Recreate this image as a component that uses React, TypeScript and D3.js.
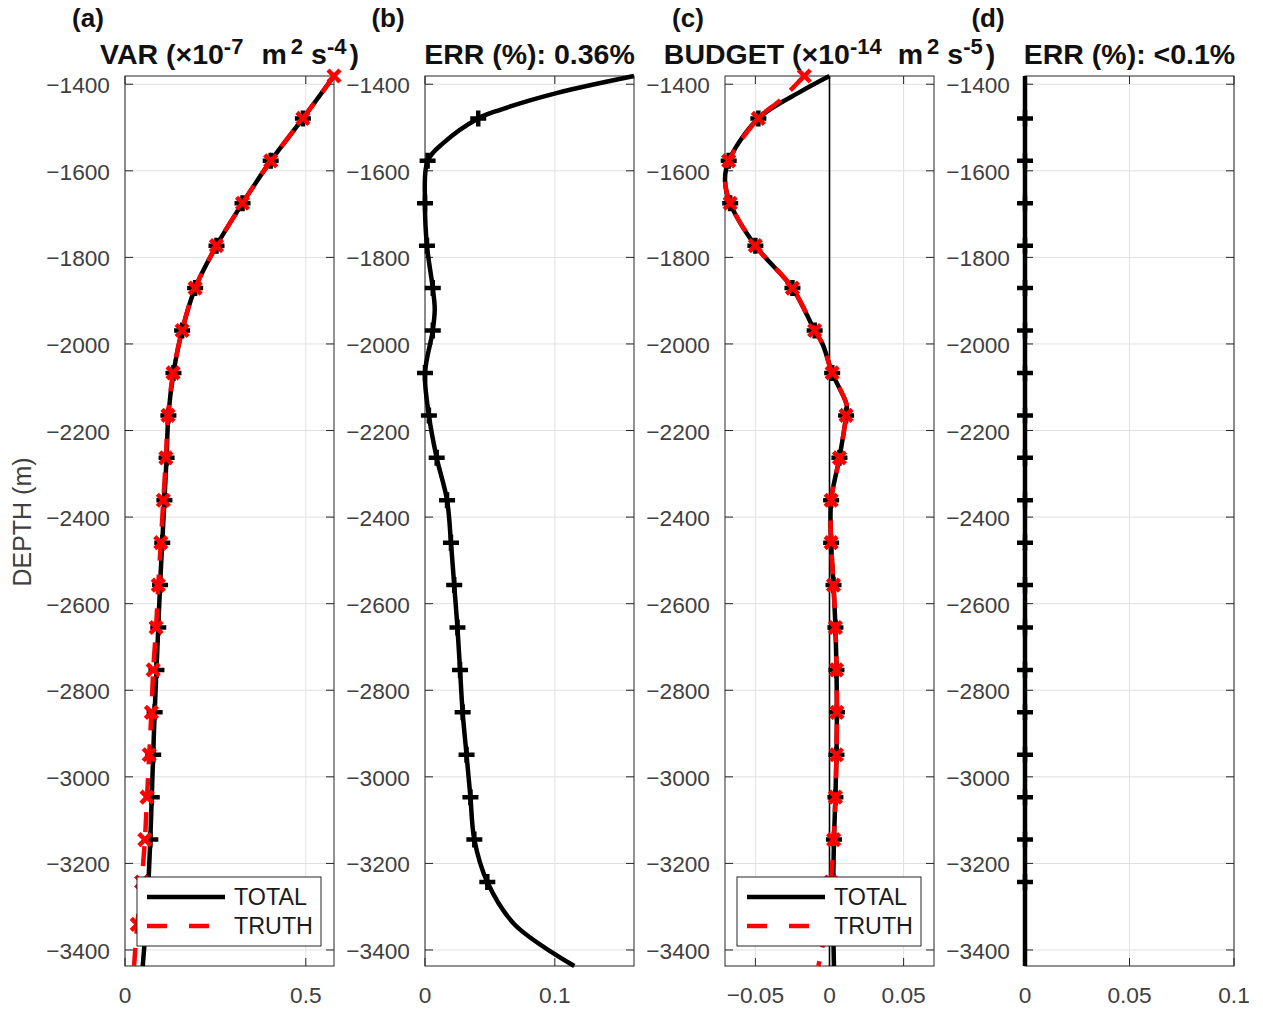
import React from "react";
import * as d3 from "d3";

// depths (m) where the markers sit, top and bottom of the plotted column
const depthTop = -1381;
const depthBottom = -3437;
const markerDepths = [
  -1381, -1479, -1577, -1675, -1773, -1871, -1969, -2067, -2165, -2263, -2361,
  -2459, -2557, -2655, -2753, -2851, -2949, -3047, -3145, -3243, -3341,
];
const yTicks = [-1400, -1600, -1800, -2000, -2200, -2400, -2600, -2800, -3000, -3200, -3400];

// (a) VAR (x1e-7 m2 s-4)
const varDepths = [...markerDepths, depthBottom];
const varTotal = [
  0.578, 0.492, 0.403, 0.325, 0.253, 0.194, 0.158, 0.134, 0.12, 0.115, 0.109,
  0.103, 0.097, 0.092, 0.087, 0.082, 0.078, 0.074, 0.07, 0.065, 0.058, 0.049,
];
const varTruth = [
  0.578, 0.492, 0.403, 0.325, 0.253, 0.194, 0.158, 0.133, 0.119, 0.113, 0.106,
  0.099, 0.092, 0.086, 0.078, 0.073, 0.067, 0.061, 0.055, 0.046, 0.034, 0.025,
];

// (b) ERR (%)
const errDepths = [
  -1381, -1420, -1459, -1479, -1536, -1577, -1675, -1773, -1871, -1920, -1969,
  -2067, -2165, -2263, -2361, -2459, -2557, -2655, -2753, -2851, -2949, -3047,
  -3145, -3243, -3341, -3437,
];
const errValues = [
  0.161, 0.102, 0.058, 0.041, 0.014, 0.002, 0.0, 0.0015, 0.006, 0.0075, 0.006,
  0.0, 0.003, 0.009, 0.017, 0.02, 0.0225, 0.025, 0.027, 0.029, 0.032, 0.035,
  0.038, 0.048, 0.069, 0.115,
];

// (c) BUDGET (x1e-14 m2 s-5)
const budgetTotalDepths = [
  -1381, -1420, -1479, -1577, -1621, -1675, -1773, -1871, -1969, -2000, -2067,
  -2140, -2165, -2263, -2361, -2459, -2557, -2655, -2753, -2851, -2949, -3047,
  -3145, -3243, -3341, -3437,
];
const budgetTotal = [
  0.0, -0.021, -0.048, -0.068, -0.0705, -0.067, -0.05, -0.025, -0.01, -0.0047, 0.0018,
  0.0115, 0.0112, 0.0067, 0.0011, 0.0011, 0.0027, 0.004, 0.0047, 0.005, 0.0047, 0.004,
  0.003, 0.0025, 0.0025, 0.003,
];
const budgetTruthDepths = [
  -1381, -1436, -1479, -1577, -1621, -1675, -1773, -1871, -1969, -2000, -2067,
  -2140, -2165, -2263, -2361, -2459, -2557, -2655, -2753, -2851, -2949, -3047,
  -3145, -3243, -3341, -3437,
];
const budgetTruth = [
  -0.017, -0.033, -0.048, -0.068, -0.0705, -0.067, -0.05, -0.025, -0.01, -0.0047, 0.0018,
  0.0115, 0.0112, 0.0067, 0.0011, 0.0011, 0.0027, 0.004, 0.0047, 0.005, 0.0047, 0.004,
  0.0028, 0.001, -0.002, -0.0075,
];

// (d) ERR (%)
const err2Depths = [...markerDepths, depthBottom];
const err2Values = [0, 0, 0, 0, 0, 0, 0, 0, 0, 0, 0, 0, 0, 0, 0, 0, 0, 0, 0, 0, 0, 0];

const panelLabels = ["(a)", "(b)", "(c)", "(d)"];
const legendNames = ["TOTAL", "TRUTH"];

const FONT = "'Liberation Sans', Arial, Helvetica, sans-serif";
const AX = "#262626";
const LBL = "#404040";
const GRID = "#e0e0e0";
const RED = "#ff0000";

const top = 76;
const bottom = 966;
const panelW = 209;
const lefts = [125, 425, 725, 1025];

const y = d3.scaleLinear().domain([depthBottom, depthTop]).range([bottom, top]);

const fmt = (d) => (d < 0 ? "\u2212" + Math.abs(d) : String(d));

const toPts = (depths, vals) => depths.map((d, i) => ({ depth: d, v: vals[i] }));

const PLUS = "M-8,0H8M0,-8V8";
const CROSS = "M-6,-6L6,6M-6,6L6,-6";

function Title({ cx, parts }) {
  let shifted = false;
  const kids = parts.map((p, i) => {
    let dy = 0;
    if (p.sup && !shifted) { dy = -10; shifted = true; }
    else if (!p.sup && shifted) { dy = 10; shifted = false; }
    return (
      <tspan key={i} dy={dy} dx={p.dx || 0} fontSize={p.sup ? 22 : 28.5}>{p.t}</tspan>
    );
  });
  return (
    <text x={cx} y={64} textAnchor="middle" fontFamily={FONT} fontWeight="bold" fill="#111">
      {kids}
    </text>
  );
}

function Panel({ k, domain, ticks, title, lines, legend, zeroLine }) {
  const x0 = lefts[k];
  const x = d3.scaleLinear().domain(domain).range([x0, x0 + panelW]);
  const lineGen = d3.line()
    .x((p) => x(p.v))
    .y((p) => y(p.depth))
    .curve(d3.curveCatmullRom.alpha(0.5));
  const x1 = x0 + panelW;
  return (
    <g>
      {/* grid */}
      {yTicks.map((t) => (
        <line key={"gy" + t} x1={x0} x2={x1} y1={y(t)} y2={y(t)} stroke={GRID} strokeWidth={1} />
      ))}
      {ticks.map((t) => (
        <line key={"gx" + t} x1={x(t)} x2={x(t)} y1={top} y2={bottom} stroke={GRID} strokeWidth={1} />
      ))}
      {/* box + ticks */}
      <rect x={x0} y={top} width={panelW} height={bottom - top} fill="none" stroke={AX} strokeWidth={1} />
      {yTicks.map((t) => (
        <g key={"ty" + t}>
          <line x1={x0} x2={x0 + 8} y1={y(t)} y2={y(t)} stroke={AX} />
          <line x1={x1} x2={x1 - 8} y1={y(t)} y2={y(t)} stroke={AX} />
          <text x={x0 - 15} y={y(t) + 9} textAnchor="end" fontFamily={FONT} fontSize={22.7} fill={LBL}>
            {fmt(t)}
          </text>
        </g>
      ))}
      {ticks.map((t) => (
        <g key={"tx" + t}>
          <line x1={x(t)} x2={x(t)} y1={bottom} y2={bottom - 8} stroke={AX} />
          <line x1={x(t)} x2={x(t)} y1={top} y2={top + 8} stroke={AX} />
          <text x={x(t)} y={1003} textAnchor="middle" fontFamily={FONT} fontSize={22.7} fill={LBL}>
            {fmt(t)}
          </text>
        </g>
      ))}
      {zeroLine && (
        <line x1={x(0)} x2={x(0)} y1={top} y2={bottom} stroke="#000" strokeWidth={1.6} />
      )}
      {/* data */}
      {lines.map((ln, i) => (
        <g key={"ln" + i}>
          <path
            d={lineGen(ln.pts)}
            fill="none"
            stroke={ln.color}
            strokeWidth={4.5}
            strokeDasharray={ln.dash ? "20 14" : null}
          />
          {ln.pts
            .filter((p) => ln.markerDepths.includes(p.depth))
            .map((p, j) => (
              <path
                key={j}
                transform={`translate(${x(p.v)},${y(p.depth)})`}
                d={ln.marker}
                stroke={ln.color}
                strokeWidth={4.5}
                fill="none"
              />
            ))}
        </g>
      ))}
      {/* legend */}
      {legend && (
        <g transform={`translate(${x1 - 13 - 184},877)`}>
          <rect width={184} height={69} fill="#fff" stroke={AX} strokeWidth={1} />
          <line x1={10} x2={88} y1={20} y2={20} stroke="#000" strokeWidth={4.5} />
          <line x1={10} x2={88} y1={49} y2={49} stroke={RED} strokeWidth={4.5} strokeDasharray="20 22" />
          <text x={97} y={28} fontFamily={FONT} fontSize={23.3} fill="#1a1a1a">{legendNames[0]}</text>
          <text x={97} y={57} fontFamily={FONT} fontSize={23.3} fill="#1a1a1a">{legendNames[1]}</text>
        </g>
      )}
      <Title cx={x0 + panelW / 2} parts={title} />
      <text x={x0 - 37} y={27} textAnchor="middle" fontFamily={FONT} fontWeight="bold" fontSize={26} fill="#111">
        {panelLabels[k]}
      </text>
    </g>
  );
}

export default function App() {
  const inner = markerDepths.slice(1, 20);
  return (
    <svg width={1263} height={1012} style={{ display: "block", position: "absolute", left: 0, top: 0, background: "#fff" }}>
      <rect width={1263} height={1012} fill="#fff" />
      <text
        transform="translate(31,522) rotate(-90)"
        textAnchor="middle"
        fontFamily={FONT}
        fontSize={25}
        fill={LBL}
      >
        DEPTH (m)
      </text>
      <Panel
        k={0}
        domain={[0, 0.578]}
        ticks={[0, 0.5]}
        title={[{ t: "VAR (×10" }, { t: "-7", sup: true }, { t: "m", dx: 18 }, { t: "2", sup: true, dx: 4 }, { t: "s", dx: 8 }, { t: "-4", sup: true }, { t: ")", dx: 3 }]}
        legend
        lines={[
          { pts: toPts(varDepths, varTotal), color: "#000", marker: PLUS, markerDepths: inner },
          { pts: toPts(varDepths, varTruth), color: RED, dash: true, marker: CROSS, markerDepths: markerDepths },
        ]}
      />
      <Panel
        k={1}
        domain={[0, 0.161]}
        ticks={[0, 0.1]}
        title={[{ t: "ERR (%): 0.36%" }]}
        lines={[{ pts: toPts(errDepths, errValues), color: "#000", marker: PLUS, markerDepths: inner }]}
      />
      <Panel
        k={2}
        domain={[-0.0705, 0.0705]}
        ticks={[-0.05, 0, 0.05]}
        title={[{ t: "BUDGET (×10" }, { t: "-14", sup: true }, { t: "m", dx: 16 }, { t: "2", sup: true, dx: 4 }, { t: "s", dx: 8 }, { t: "-5", sup: true }, { t: ")", dx: 3 }]}
        legend
        zeroLine
        lines={[
          { pts: toPts(budgetTotalDepths, budgetTotal), color: "#000", marker: PLUS, markerDepths: inner },
          { pts: toPts(budgetTruthDepths, budgetTruth), color: RED, dash: true, marker: CROSS, markerDepths: markerDepths },
        ]}
      />
      <Panel
        k={3}
        domain={[0, 0.1]}
        ticks={[0, 0.05, 0.1]}
        title={[{ t: "ERR (%): <0.1%" }]}
        lines={[{ pts: toPts(err2Depths, err2Values), color: "#000", marker: PLUS, markerDepths: inner }]}
      />
    </svg>
  );
}
